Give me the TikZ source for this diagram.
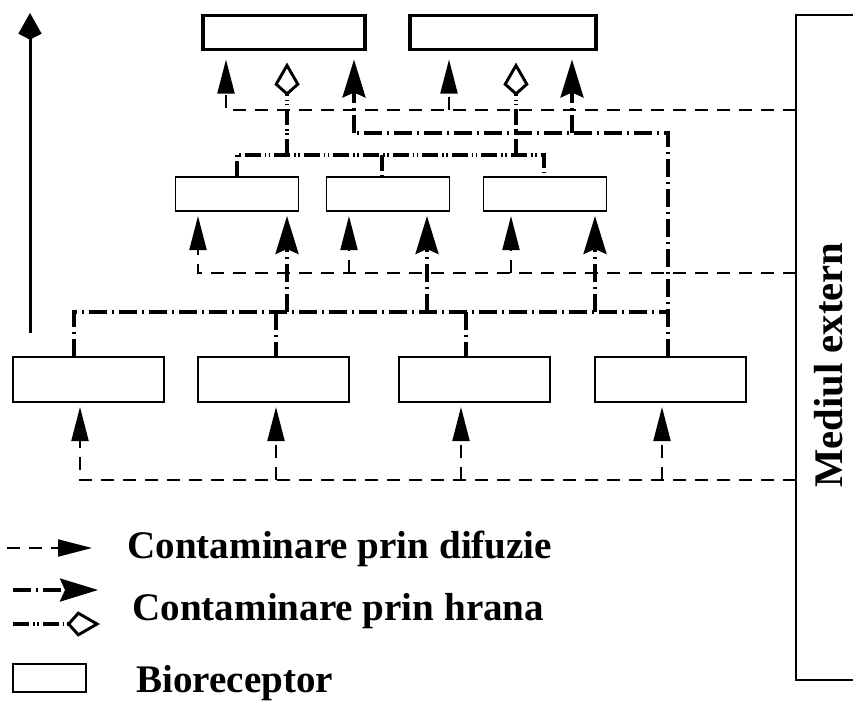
\documentclass[tikz,border=0pt]{standalone}
\usepackage{fontspec}
\setmainfont{Liberation Serif}
\usetikzlibrary{arrows.meta}

\tikzset{every picture/.style={line width=0.75pt}}
\tikzset{
  recbox/.style={draw, rectangle, inner sep=0pt, outer sep=0pt},
  supbox/.style={recbox, line width=2.5pt, minimum height=25.5pt},
  midbox/.style={recbox, line width=1.1pt, minimum width=92.25pt, minimum height=25.5pt},
  josbox/.style={recbox, line width=0.8pt, minimum width=113.25pt, minimum height=33.75pt},
  legtext/.style={inner sep=0pt, font=\fontsize{29.3}{35}\selectfont\bfseries},
  difuzie/.style={line width=1.5pt, dash pattern=on 9.75pt off 6.75pt},
  hrana/.style={line width=2.5pt, dash pattern=on 13.5pt off 3.75pt on 1.5pt off 3.75pt},
  hranab/.style={line width=2.5pt, dash pattern=on 12pt off 3pt on 1.2pt off 1.8pt on 1.2pt off 3pt},
  arrdif/.style={-{Triangle[length=25.5pt,width=12.75pt]}},
  arrhr/.style={-{Stealth[length=28.5pt,width=17.25pt,inset=3.75pt]}},
  arrhrb/.style={-{Kite[open,length=25pt,width=19pt,inset=8.5pt,line width=2.2pt]}}
}

\begin{document}
\begin{tikzpicture}[x=0.75pt,y=0.75pt,yscale=-1,xscale=1]
\useasboundingbox (0,0) rectangle (853,700);

%Shape: Rectangle
\node[supbox, minimum width=121.5pt] (T1) at (284,32.5) {};
\node[supbox, minimum width=139.5pt] (T2) at (503,32.5) {};
\node[midbox] (M1) at (237,194) {};
\node[midbox] (M2) at (388,194) {};
\node[midbox] (M3) at (545,194) {};
\node[josbox] (B1) at (88.5,379.5) {};
\node[josbox] (B2) at (273.5,379.5) {};
\node[josbox] (B3) at (474.5,379.5) {};
\node[josbox] (B4) at (670.5,379.5) {};
\node[recbox, line width=0.8pt, minimum width=150pt, minimum height=498.75pt, anchor=north west] (ext) at (796,15) {};

% Text Node
\node[legtext, font=\fontsize{30.5}{36}\selectfont\bfseries, rotate=90, anchor=base] (mediu) at (842,365) {Mediul extern};

%Straight Lines (left axis)
\coordinate (ax0) at (30,333);
\coordinate (ax1) at (30,13);
\draw[line width=2.25pt, -{Kite[length=20pt,width=17.5pt,inset=4.5pt]}] (ax0) -- (ax1);

%Straight Lines (top level)
\draw[difuzie, arrdif, shorten >=7.5pt] (ext.west |- 226,110) -- (226,110) -- (226,110 |- T1.south);
\draw[difuzie, arrdif, shorten >=7.5pt] (449,110) -- (449,110 |- T2.south);
\draw[hrana] (668,133 |- B4.north) |- (354,133);
\draw[hrana, arrhr, shorten >=7.5pt] (354,133) -- (354,133 |- T1.south);
\draw[hrana, arrhr, shorten >=7.5pt] (572,133) -- (572,133 |- T2.south);
\draw[hranab] (237,155 |- M1.north) |- (544,155) -- (544,155 |- M3.north);
\draw[hranab] (382,155) -- (382,155 |- M2.north);
\draw[hranab, arrhrb, shorten >=9.75pt] (287,155) -- (287,155 |- T1.south);
\draw[hranab, arrhrb, shorten >=9.75pt] (516,155) -- (516,155 |- T2.south);

%Straight Lines (middle level)
\draw[difuzie, arrdif, shorten >=3.75pt] (ext.west |- 198,273) -- (198,273) -- (198,273 |- M1.south);
\draw[difuzie, arrdif, shorten >=3.75pt] (349,273) -- (349,273 |- M2.south);
\draw[difuzie, arrdif, shorten >=3.75pt] (511,273) -- (511,273 |- M3.south);
\draw[hrana] (74,312 |- B1.north) |- (668,312);
\draw[hrana] (276,312) -- (276,312 |- B2.north);
\draw[hrana] (466,312) -- (466,312 |- B3.north);
\draw[hrana, arrhr, shorten >=3.75pt] (287,312) -- (287,312 |- M1.south);
\draw[hrana, arrhr, shorten >=3.75pt] (427,312) -- (427,312 |- M2.south);
\draw[hrana, arrhr, shorten >=3.75pt] (595,312) -- (595,312 |- M3.south);

%Straight Lines (bottom level)
\draw[difuzie, arrdif, shorten >=3.75pt] (ext.west |- 80,480) -- (80,480) -- (80,480 |- B1.south);
\draw[difuzie, arrdif, shorten >=3.75pt] (276,480) -- (276,480 |- B2.south);
\draw[difuzie, arrdif, shorten >=3.75pt] (461,480) -- (461,480 |- B3.south);
\draw[difuzie, arrdif, shorten >=3.75pt] (662,480) -- (662,480 |- B4.south);

%Legend
\coordinate (l1a) at (7,548);
\coordinate (l1b) at (92,548);
\coordinate (l2a) at (13,590);
\coordinate (l2b) at (98,590);
\coordinate (l3a) at (13,624);
\coordinate (l3b) at (100,624);
\draw[difuzie, arrdif] (l1a) -- (l1b);
\draw[hrana, arrhr] (l2a) -- (l2b);
\draw[hranab, arrhrb] (l3a) -- (l3b);
\node[recbox, line width=1pt, minimum width=54.75pt, minimum height=21pt] (bio) at (49.5,678) {};

% Text Node
\node[legtext, anchor=base west] (tdif) at (127,558) {Contaminare prin difuzie};
% Text Node
\node[legtext, anchor=base west] (thr) at (132,620) {Contaminare prin hrana};
% Text Node
\node[legtext, anchor=base west] (tbio) at (136,692) {Bioreceptor};

\end{tikzpicture}
\end{document}
